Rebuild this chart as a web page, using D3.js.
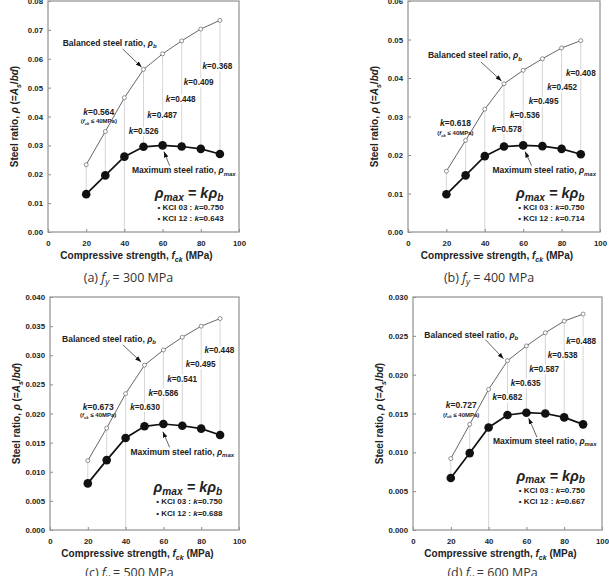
<!DOCTYPE html>
<html>
<head>
<meta charset="utf-8">
<script src="https://cdn.jsdelivr.net/npm/d3@7"></script>
<style>
  body { margin: 0; background: #fff; }
  svg text { font-family: "Liberation Sans", Arial, sans-serif; font-weight: bold; fill: #222; }
  svg text.caption { font-family: "Open Sans", sans-serif; font-weight: normal; fill: #333; }
</style>
</head>
<body>
<svg id="chart" width="609" height="576"></svg>
<script>
// ---- data ----
const fck = [20, 30, 40, 50, 60, 70, 80, 90];
const fyValues = [300, 400, 500, 600];

const rhoB300 = [0.0233, 0.0348, 0.0465, 0.0563, 0.0617, 0.0662, 0.0703, 0.0733];
const rhoMax300 = [0.0131, 0.0196, 0.0261, 0.0295, 0.0300, 0.0296, 0.0288, 0.0270];
const rhoB400 = [0.0158, 0.0238, 0.0319, 0.0385, 0.0420, 0.0450, 0.0478, 0.0497];
const rhoMax400 = [0.0098, 0.0147, 0.0197, 0.0222, 0.0225, 0.0223, 0.0216, 0.0202];
const rhoB500 = [0.0119, 0.0175, 0.0234, 0.0283, 0.0309, 0.0331, 0.0350, 0.0363];
const rhoMax500 = [0.0080, 0.0120, 0.0158, 0.0178, 0.0182, 0.0179, 0.0174, 0.0163];
const rhoB600 = [0.0092, 0.0136, 0.0181, 0.0218, 0.0237, 0.0254, 0.0269, 0.0278];
const rhoMax600 = [0.0067, 0.0099, 0.0132, 0.0148, 0.0151, 0.0150, 0.0145, 0.0136];

// k for fck <= 40, then k at 50..90
const kLabels300 = ["0.564", "0.526", "0.487", "0.448", "0.409", "0.368"];
const kLabels400 = ["0.618", "0.578", "0.536", "0.495", "0.452", "0.408"];
const kLabels500 = ["0.673", "0.630", "0.586", "0.541", "0.495", "0.448"];
const kLabels600 = ["0.727", "0.682", "0.635", "0.587", "0.538", "0.488"];
const kci03 = "0.750";
const kci12 = ["0.643", "0.714", "0.688", "0.667"];

const yMax = [0.08, 0.06, 0.04, 0.03];
const yStep = [0.01, 0.01, 0.005, 0.005];
const yFormat = [".2f", ".2f", ".3f", ".3f"];
const xTicks = [0, 20, 40, 60, 80, 100];
const limitFck = 40;

const rhoB = [rhoB300, rhoB400, rhoB500, rhoB600];
const rhoMax = [rhoMax300, rhoMax400, rhoMax500, rhoMax600];
const kLabels = [kLabels300, kLabels400, kLabels500, kLabels600];
const letters = ["a", "b", "c", "d"];

// ---- layout (frame box in px, annotation spots in fck units / fraction of y range) ----
const panels = [
  { x0: 48, x1: 239, y0: 1, y1: 232, cap: 50,
    bal: [7.7, 0.805], balArrow: [39.1, 0.792, 49.0, 0.714],
    k0: [26.6, 0.506, 0.471],
    kx: [50.1, 59.8, 69.5, 78.9, 88.7], kf: [0.423, 0.492, 0.564, 0.635, 0.704],
    max: [44.0, 0.254], maxArrow: [63.7, 0.287, 60.7, 0.348],
    eq: [55.9, 0.146], kci: [57.3, 0.094, 0.046] },
  { x0: 408, x1: 600, y0: 1, y1: 232, cap: 50,
    bal: [10.4, 0.752], balArrow: [38.0, 0.736, 48.7, 0.654],
    k0: [24.7, 0.460, 0.419],
    kx: [51.5, 60.9, 70.6, 80.3, 90.0], kf: [0.432, 0.492, 0.553, 0.613, 0.674],
    max: [44.0, 0.254], maxArrow: [64.4, 0.287, 61.0, 0.348],
    eq: [56.2, 0.146], kci: [57.4, 0.095, 0.046] },
  { x0: 50, x1: 239, y0: 297, y1: 530, cap: 47,
    bal: [6.4, 0.809], balArrow: [38.5, 0.795, 48.2, 0.721],
    k0: [25.5, 0.517, 0.484],
    kx: [50.3, 60.0, 69.9, 79.7, 89.6], kf: [0.516, 0.577, 0.637, 0.698, 0.758],
    max: [42.6, 0.322], maxArrow: [63.3, 0.355, 59.7, 0.422],
    eq: [54.8, 0.162], kci: [56.2, 0.110, 0.061] },
  { x0: 413, x1: 602, y0: 297, y1: 530, cap: 47,
    bal: [6.0, 0.826], balArrow: [38.3, 0.817, 47.9, 0.735],
    k0: [25.5, 0.523, 0.486],
    kx: [49.9, 59.6, 69.4, 79.2, 89.0], kf: [0.556, 0.619, 0.679, 0.738, 0.798],
    max: [42.3, 0.370], maxArrow: [65.6, 0.398, 61.2, 0.480],
    eq: [54.7, 0.210], kci: [55.9, 0.160, 0.113] }
];

const svg = d3.select("#chart");

svg.append("defs").append("marker")
  .attr("id", "arrow")
  .attr("viewBox", "0 0 8 6")
  .attr("refX", 8).attr("refY", 3)
  .attr("markerWidth", 6).attr("markerHeight", 4.5)
  .attr("markerUnits", "userSpaceOnUse")
  .attr("orient", "auto")
  .append("path").attr("d", "M0,0L8,3L0,6Z").attr("fill", "#111");

// text with italic / subscript pieces: parts = [[string, "i" | "sub" | ""], ...]
function richText(parent, parts, size, subDrop = 0.28) {
  let t = parent.append("text").attr("font-size", size);
  let shift = 0;
  parts.forEach(([s, style]) => {
    let span = t.append("tspan").text(s);
    let target = 0;
    if (style && style.includes("i")) span.attr("font-style", "italic");
    if (style && style.includes("sub")) {
      span.attr("font-size", size * 0.7);
      target = size * subDrop;
    }
    if (target !== shift) { span.attr("dy", target - shift); shift = target; }
  });
  return t;
}

function drawPanel(i) {
  let p = panels[i];
  let rb = rhoB[i], rm = rhoMax[i], ks = kLabels[i];

  let x = d3.scaleLinear().domain([0, 100]).range([p.x0, p.x1]);
  let y = d3.scaleLinear().domain([0, yMax[i]]).range([p.y1, p.y0]);
  let yf = f => y(f * yMax[i]);

  let g = svg.append("g");

  // guide lines between the curves (full height at fck = 40)
  g.selectAll(".guide").data(fck).join("line")
    .attr("class", "guide")
    .attr("x1", d => x(d)).attr("x2", d => x(d))
    .attr("y1", (d, j) => y(rb[j]))
    .attr("y2", (d, j) => d === limitFck ? y(0) : y(rm[j]))
    .attr("stroke", "#c4c4c4").attr("stroke-width", 0.7);

  // k labels on white boxes
  ks.slice(1).forEach((k, j) => {
    let lg = g.append("g").attr("transform", `translate(${x(p.kx[j])},${yf(p.kf[j])})`);
    let t = richText(lg, [["k", "i"], ["=" + k, ""]], 8.2).attr("text-anchor", "middle");
    let bb = t.node().getBBox();
    lg.insert("rect", "text")
      .attr("x", bb.x - 1).attr("y", bb.y).attr("width", bb.width + 2).attr("height", bb.height)
      .attr("fill", "#fff");
  });

  // axes
  let yAxis = d3.axisLeft(y)
    .tickValues(d3.range(0, yMax[i] + yStep[i] / 2, yStep[i]))
    .tickFormat(d3.format(yFormat[i]))
    .tickSizeInner(-3).tickSizeOuter(0).tickPadding(5);
  let xAxis = d3.axisBottom(x)
    .tickValues(xTicks)
    .tickSizeInner(-3).tickSizeOuter(0).tickPadding(8);

  let ya = g.append("g").attr("transform", `translate(${p.x0},0)`).call(yAxis);
  let xa = g.append("g").attr("transform", `translate(0,${p.y1})`).call(xAxis);
  [ya, xa].forEach(a => {
    a.attr("font-family", null).attr("font-size", null);
    a.select(".domain").remove();
    a.selectAll(".tick line").attr("stroke", "#888");
    a.selectAll(".tick text").attr("font-size", 7.8).attr("fill", "#222");
  });

  g.append("rect")
    .attr("x", p.x0).attr("y", p.y0)
    .attr("width", p.x1 - p.x0).attr("height", p.y1 - p.y0)
    .attr("fill", "none").attr("stroke", "#999").attr("stroke-width", 1.3);

  // balanced steel ratio
  let line = d3.line().x((d, j) => x(fck[j])).y(d => y(d));
  g.append("path").datum(rb).attr("d", line)
    .attr("fill", "none").attr("stroke", "#555").attr("stroke-width", 0.9);
  g.selectAll(".pb").data(rb).join("circle")
    .attr("class", "pb")
    .attr("cx", (d, j) => x(fck[j])).attr("cy", d => y(d)).attr("r", 2)
    .attr("fill", "#fff").attr("stroke", "#666").attr("stroke-width", 0.7);

  // maximum steel ratio
  g.append("path").datum(rm).attr("d", line)
    .attr("fill", "none").attr("stroke", "#111").attr("stroke-width", 1.7);
  g.selectAll(".pm").data(rm).join("circle")
    .attr("class", "pm")
    .attr("cx", (d, j) => x(fck[j])).attr("cy", d => y(d)).attr("r", 4.3)
    .attr("fill", "#111");

  // annotations
  richText(g, [["Balanced steel ratio, ", ""], ["ρ", "i"], ["b", "isub"]], 8.5)
    .attr("transform", `translate(${x(p.bal[0])},${yf(p.bal[1])})`);
  g.append("line")
    .attr("x1", x(p.balArrow[0])).attr("y1", yf(p.balArrow[1]))
    .attr("x2", x(p.balArrow[2])).attr("y2", yf(p.balArrow[3]))
    .attr("stroke", "#222").attr("stroke-width", 0.7).attr("marker-end", "url(#arrow)");

  richText(g, [["Maximum steel ratio, ", ""], ["ρ", "i"], ["max", "isub"]], 8.5)
    .attr("transform", `translate(${x(p.max[0])},${yf(p.max[1])})`);
  g.append("line")
    .attr("x1", x(p.maxArrow[0])).attr("y1", yf(p.maxArrow[1]))
    .attr("x2", x(p.maxArrow[2])).attr("y2", yf(p.maxArrow[3]))
    .attr("stroke", "#222").attr("stroke-width", 0.7).attr("marker-end", "url(#arrow)");

  richText(g, [["k", "i"], ["=" + ks[0], ""]], 8.5)
    .attr("text-anchor", "middle")
    .attr("transform", `translate(${x(p.k0[0])},${yf(p.k0[1])})`);
  richText(g, [["(", ""], ["f", "i"], ["ck", "isub"], [" ≤ 40MPa)", ""]], 6)
    .attr("text-anchor", "middle")
    .attr("transform", `translate(${x(p.k0[0])},${yf(p.k0[2])})`);

  richText(g, [["ρ", "i"], ["max", "isub"], [" = ", ""], ["kρ", "i"], ["b", "isub"]], 14.5, 0.16)
    .attr("font-style", "italic")
    .attr("transform", `translate(${x(p.eq[0])},${yf(p.eq[1])})`);
  richText(g, [["• KCI 03 : ", ""], ["k", "i"], ["=" + kci03, ""]], 8)
    .attr("transform", `translate(${x(p.kci[0])},${yf(p.kci[1])})`);
  richText(g, [["• KCI 12 : ", ""], ["k", "i"], ["=" + kci12[i], ""]], 8)
    .attr("transform", `translate(${x(p.kci[0])},${yf(p.kci[2])})`);

  // axis titles
  richText(g, [["Steel ratio, ", ""], ["ρ", "i"], [" (=", ""], ["A", "i"], ["s", "isub"], ["/", ""], ["bd", "i"], [")", ""]], 10)
    .attr("text-anchor", "middle")
    .attr("transform", `translate(${p.x0 - 30},${(p.y0 + p.y1) / 2}) rotate(-90)`);
  richText(g, [["Compressive strength, ", ""], ["f", "i"], ["ck", "isub"], [" (MPa)", ""]], 10)
    .attr("text-anchor", "middle")
    .attr("transform", `translate(${(p.x0 + p.x1) / 2 - 7},${p.y1 + 27})`);

  // caption
  richText(g, [["(" + letters[i] + ") ", ""], ["f", "i"], ["y", "isub"], [" = " + fyValues[i] + " MPa", ""]], 12.5, 0.2)
    .attr("class", "caption")
    .attr("text-anchor", "middle")
    .attr("transform", `translate(${(p.x0 + p.x1) / 2 - 15},${p.y1 + p.cap})`);
}

panels.forEach((p, i) => drawPanel(i));
</script>
</body>
</html>
